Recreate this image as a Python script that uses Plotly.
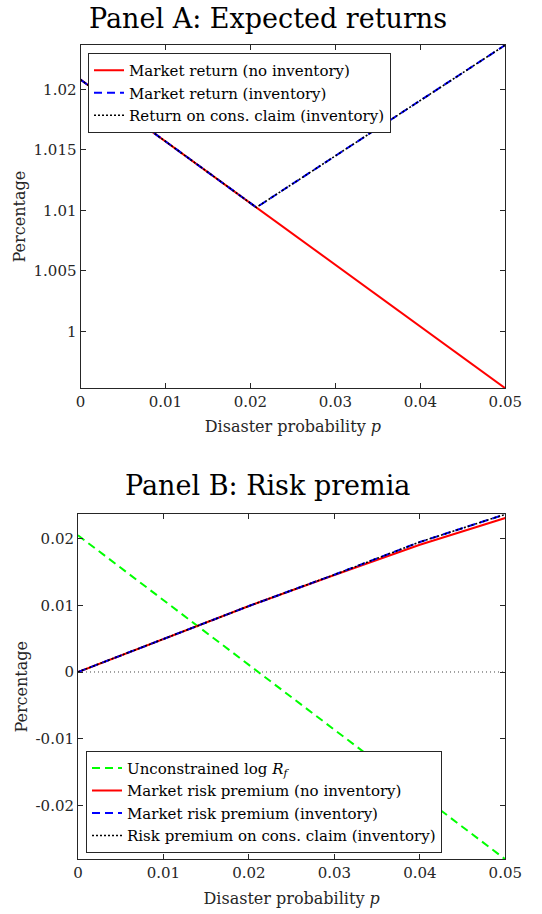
import plotly.graph_objects as go

# ---------------- data ----------------
p_a = [0, 0.01, 0.02, 0.0207, 0.03, 0.04, 0.05]
ret_no_inv = [1.0208, 1.0157, 1.0106, 1.01024, 1.0055, 1.0004, 0.9953]
ret_inv = [1.0208, 1.0157, 1.0106, 1.01024, 1.0145, 1.0191, 1.02366]
ret_cons = [1.0208, 1.0157, 1.0106, 1.01024, 1.0145, 1.0191, 1.02366]

p_b = [0, 0.01, 0.02, 0.03, 0.04, 0.05]
log_rf = [0.0205, 0.0108, 0.0011, -0.0087, -0.0184, -0.0281]
rp_no_inv = [0, 0.0050, 0.0099, 0.01455, 0.0191, 0.0231]
rp_inv = [0, 0.0050, 0.0099, 0.0146, 0.0195, 0.02366]
rp_cons = [0, 0.0050, 0.0099, 0.0146, 0.0195, 0.02366]

zero_x = [0, 0.05]
zero_y = [0, 0]

x_ticks = [0, 0.01, 0.02, 0.03, 0.04, 0.05]
x_ticktext = ["0", "0.01", "0.02", "0.03", "0.04", "0.05"]
ya_ticks = [1, 1.005, 1.01, 1.015, 1.02]
ya_ticktext = ["1", "1.005", "1.01", "1.015", "1.02"]
yb_ticks = [-0.02, -0.01, 0, 0.01, 0.02]
yb_ticktext = ["-0.02", "-0.01", "0", "0.01", "0.02"]

title_a = "Panel A: Expected returns"
title_b = "Panel B: Risk premia"
x_title = "Disaster probability <i>p</i>"
y_title = "Percentage"

# ---------------- figure ----------------
W, H = 542, 914
FONT = "DejaVu Serif"
AX = "#262626"

fig = go.Figure()

# Panel A
fig.add_trace(go.Scatter(x=p_a, y=ret_no_inv, mode="lines", name="Market return (no inventory)",
                         line=dict(color="#ff0000", width=2), xaxis="x", yaxis="y", legend="legend"))
fig.add_trace(go.Scatter(x=p_a, y=ret_inv, mode="lines", name="Market return (inventory)",
                         line=dict(color="#0000ff", width=2, dash="8px,5px"), xaxis="x", yaxis="y", legend="legend"))
fig.add_trace(go.Scatter(x=p_a, y=ret_cons, mode="lines", name="Return on cons. claim (inventory)",
                         line=dict(color="#000000", width=1.6, dash="2px,2px"), xaxis="x", yaxis="y", legend="legend"))

# Panel B
fig.add_trace(go.Scatter(x=zero_x, y=zero_y, mode="lines", showlegend=False, hoverinfo="skip",
                         line=dict(color="#444444", width=1, dash="1px,3px"), xaxis="x2", yaxis="y2"))
fig.add_trace(go.Scatter(x=p_b, y=log_rf, mode="lines", name="Unconstrained log <i>R</i><sub><i>f</i></sub>",
                         line=dict(color="#00ff00", width=2, dash="8px,5px"), xaxis="x2", yaxis="y2", legend="legend2"))
fig.add_trace(go.Scatter(x=p_b, y=rp_no_inv, mode="lines", name="Market risk premium (no inventory)",
                         line=dict(color="#ff0000", width=2), xaxis="x2", yaxis="y2", legend="legend2"))
fig.add_trace(go.Scatter(x=p_b, y=rp_inv, mode="lines", name="Market risk premium (inventory)",
                         line=dict(color="#0000ff", width=2, dash="8px,5px"), xaxis="x2", yaxis="y2", legend="legend2"))
fig.add_trace(go.Scatter(x=p_b, y=rp_cons, mode="lines", name="Risk premium on cons. claim (inventory)",
                         line=dict(color="#000000", width=1.6, dash="2px,2px"), xaxis="x2", yaxis="y2", legend="legend2"))

def px_x(v):
    return v / W

def px_y(v):
    return 1 - v / H

axis_common = dict(
    showline=True, linecolor=AX, linewidth=1, mirror="ticks",
    ticks="inside", ticklen=5, tickwidth=1, tickcolor=AX,
    showgrid=False, zeroline=False, automargin=False,
    tickfont=dict(family=FONT, size=15, color=AX),
)

ya_min = min(min(ret_no_inv), min(ret_inv), min(ret_cons))
ya_max = max(max(ret_no_inv), max(ret_inv), max(ret_cons))
yb_min = min(min(log_rf), min(rp_no_inv), min(rp_inv))
yb_max = max(max(log_rf), max(rp_no_inv), max(rp_inv))

fig.update_layout(
    width=W, height=H,
    margin=dict(l=0, r=0, t=0, b=0, autoexpand=False),
    paper_bgcolor="white", plot_bgcolor="white",
    font=dict(family=FONT, color=AX),
    xaxis=dict(domain=[px_x(80.5), px_x(505.3)], range=[0, 0.05], anchor="y",
               tickvals=x_ticks, ticktext=x_ticktext,
               title=dict(text=x_title, font=dict(family=FONT, size=16, color=AX), standoff=10),
               **axis_common),
    yaxis=dict(domain=[px_y(388.3), px_y(45)], range=[ya_min, ya_max], anchor="x",
               tickvals=ya_ticks, ticktext=ya_ticktext,
               title=dict(text=y_title, font=dict(family=FONT, size=16, color=AX), standoff=3),
               **axis_common),
    xaxis2=dict(domain=[px_x(78), px_x(505.3)], range=[0, 0.05], anchor="y2",
                tickvals=x_ticks, ticktext=x_ticktext,
                title=dict(text=x_title, font=dict(family=FONT, size=16, color=AX), standoff=11),
                **axis_common),
    yaxis2=dict(domain=[px_y(859.3), px_y(514.3)], range=[yb_min, yb_max], anchor="x2",
                tickvals=yb_ticks, ticktext=yb_ticktext,
                title=dict(text=y_title, font=dict(family=FONT, size=16, color=AX), standoff=3),
                **axis_common),
    legend=dict(x=px_x(88), y=px_y(53), xanchor="left", yanchor="top",
                bgcolor="white", bordercolor=AX, borderwidth=1,
                font=dict(family=FONT, size=15, color="#000000"),
                itemwidth=30, tracegroupgap=0),
    legend2=dict(x=px_x(86), y=px_y(852.7), xanchor="left", yanchor="bottom",
                 bgcolor="white", bordercolor=AX, borderwidth=1,
                 font=dict(family=FONT, size=15, color="#000000"),
                 itemwidth=30, tracegroupgap=0),
    annotations=[
        dict(text=title_a, x=px_x(267.5), y=px_y(18), xref="paper", yref="paper",
             xanchor="center", yanchor="middle", showarrow=False,
             font=dict(family=FONT, size=27, color="#000000")),
        dict(text=title_b, x=px_x(267.5), y=px_y(485), xref="paper", yref="paper",
             xanchor="center", yanchor="middle", showarrow=False,
             font=dict(family=FONT, size=27, color="#000000")),
    ],
)

fig.write_html("out.html")
